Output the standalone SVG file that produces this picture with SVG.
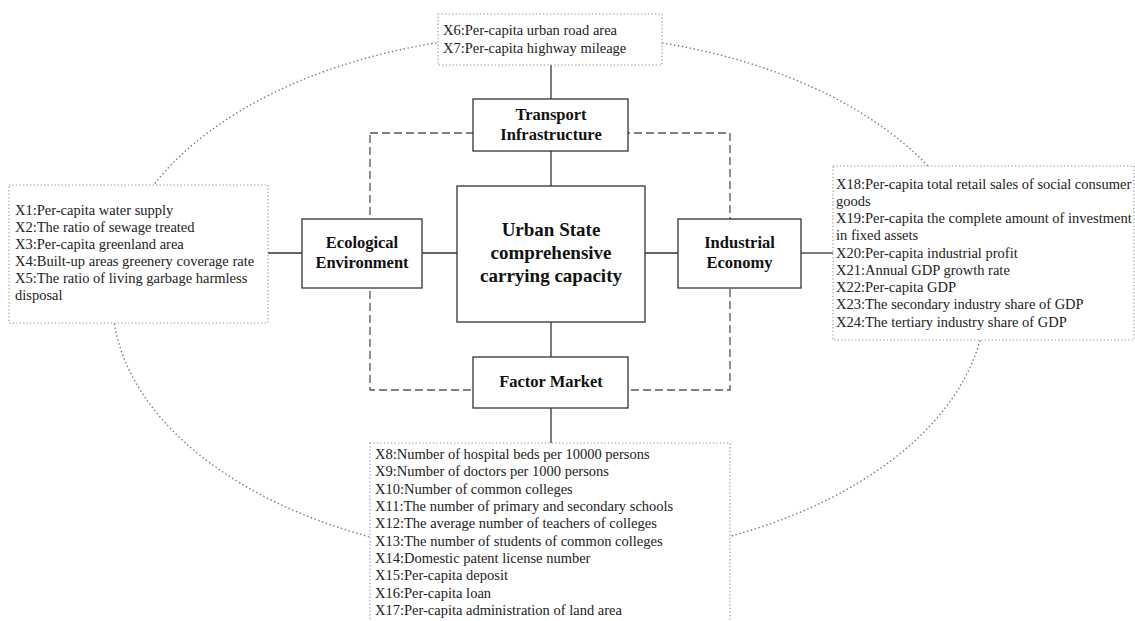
<svg xmlns="http://www.w3.org/2000/svg" width="1135" height="621" viewBox="0 0 1135 621">
<style>
.bg{fill:#fff}
.ell{fill:none;stroke:#777;stroke-width:1.4;stroke-dasharray:1.4 2.6}
.dash{fill:none;stroke:#555;stroke-width:1.3;stroke-dasharray:8 4}
.dot{fill:#fff;stroke:#999;stroke-width:1.2;stroke-dasharray:1.3 2.2}
.box{fill:#fff;stroke:#333;stroke-width:1.3}
.line{stroke:#333;stroke-width:1.3;fill:none}
.t{font-family:"Liberation Serif","Times New Roman",serif;font-size:14.5px;fill:#222}
.b{font-family:"Liberation Serif","Times New Roman",serif;font-size:16.5px;font-weight:bold;fill:#111;text-anchor:middle}
.c{font-family:"Liberation Serif","Times New Roman",serif;font-size:19px;font-weight:bold;fill:#111;text-anchor:middle}
</style>
<rect class="bg" x="0" y="0" width="1135" height="621"/>
<ellipse id="outer-ellipse" class="ell" cx="549" cy="297" rx="437" ry="263"/>
<rect id="dashed-frame" class="dash" x="370" y="133" width="360" height="257"/>
<g id="connectors">
<line class="line" x1="551" y1="65" x2="551" y2="99"/>
<line class="line" x1="551" y1="151" x2="551" y2="186"/>
<line class="line" x1="551" y1="322" x2="551" y2="357"/>
<line class="line" x1="551" y1="408" x2="551" y2="443"/>
<line class="line" x1="268" y1="253" x2="302" y2="253"/>
<line class="line" x1="422" y1="253" x2="457" y2="253"/>
<line class="line" x1="645" y1="253" x2="678" y2="253"/>
<line class="line" x1="801" y1="253" x2="833" y2="253"/>
</g>
<g id="top-box">
<rect class="dot" x="438" y="14" width="224" height="51"/>
<text class="t" x="443" y="35">X6:Per-capita urban road area</text>
<text class="t" x="443" y="53">X7:Per-capita highway mileage</text>
</g>
<g id="left-box">
<rect class="dot" x="9" y="185" width="259" height="138"/>
<text class="t" x="15" y="215">X1:Per-capita water supply</text>
<text class="t" x="15" y="232">X2:The ratio of sewage treated</text>
<text class="t" x="15" y="249">X3:Per-capita greenland area</text>
<text class="t" x="15" y="266">X4:Built-up areas greenery coverage rate</text>
<text class="t" x="15" y="283">X5:The ratio of living garbage harmless</text>
<text class="t" x="15" y="300">disposal</text>
</g>
<g id="right-box">
<rect class="dot" x="833" y="166" width="301" height="174"/>
<text class="t" x="836" y="189">X18:Per-capita total retail sales of social consumer</text>
<text class="t" x="836" y="206">goods</text>
<text class="t" x="836" y="223">X19:Per-capita the complete amount of investment</text>
<text class="t" x="836" y="240">in fixed assets</text>
<text class="t" x="836" y="258">X20:Per-capita industrial profit</text>
<text class="t" x="836" y="275">X21:Annual GDP growth rate</text>
<text class="t" x="836" y="292">X22:Per-capita GDP</text>
<text class="t" x="836" y="309">X23:The secondary industry share of GDP</text>
<text class="t" x="836" y="327">X24:The tertiary industry share of GDP</text>
</g>
<g id="bottom-box">
<rect class="dot" x="370" y="443" width="360" height="190"/>
<text class="t" x="375" y="459">X8:Number of hospital beds per 10000 persons</text>
<text class="t" x="375" y="476">X9:Number of doctors per 1000 persons</text>
<text class="t" x="375" y="494">X10:Number of common colleges</text>
<text class="t" x="375" y="511">X11:The number of primary and secondary schools</text>
<text class="t" x="375" y="528">X12:The average number of teachers of colleges</text>
<text class="t" x="375" y="546">X13:The number of students of common colleges</text>
<text class="t" x="375" y="563">X14:Domestic patent license number</text>
<text class="t" x="375" y="580">X15:Per-capita deposit</text>
<text class="t" x="375" y="598">X16:Per-capita loan</text>
<text class="t" x="375" y="615">X17:Per-capita administration of land area</text>
</g>
<g id="transport">
<rect class="box" x="473" y="99" width="155" height="52"/>
<text class="b" x="551" y="120">Transport</text>
<text class="b" x="551" y="140">Infrastructure</text>
</g>
<g id="ecological">
<rect class="box" x="302" y="219" width="120" height="69"/>
<text class="b" x="362" y="248">Ecological</text>
<text class="b" x="362" y="268">Environment</text>
</g>
<g id="center">
<rect class="box" x="457" y="186" width="188" height="136"/>
<text class="c" x="551" y="236">Urban State</text>
<text class="c" x="551" y="259">comprehensive</text>
<text class="c" x="551" y="282">carrying capacity</text>
</g>
<g id="industrial">
<rect class="box" x="678" y="219" width="123" height="69"/>
<text class="b" x="739.5" y="248">Industrial</text>
<text class="b" x="739.5" y="268">Economy</text>
</g>
<g id="factor">
<rect class="box" x="473" y="357" width="155" height="51"/>
<text class="b" x="551" y="387">Factor Market</text>
</g>
</svg>
